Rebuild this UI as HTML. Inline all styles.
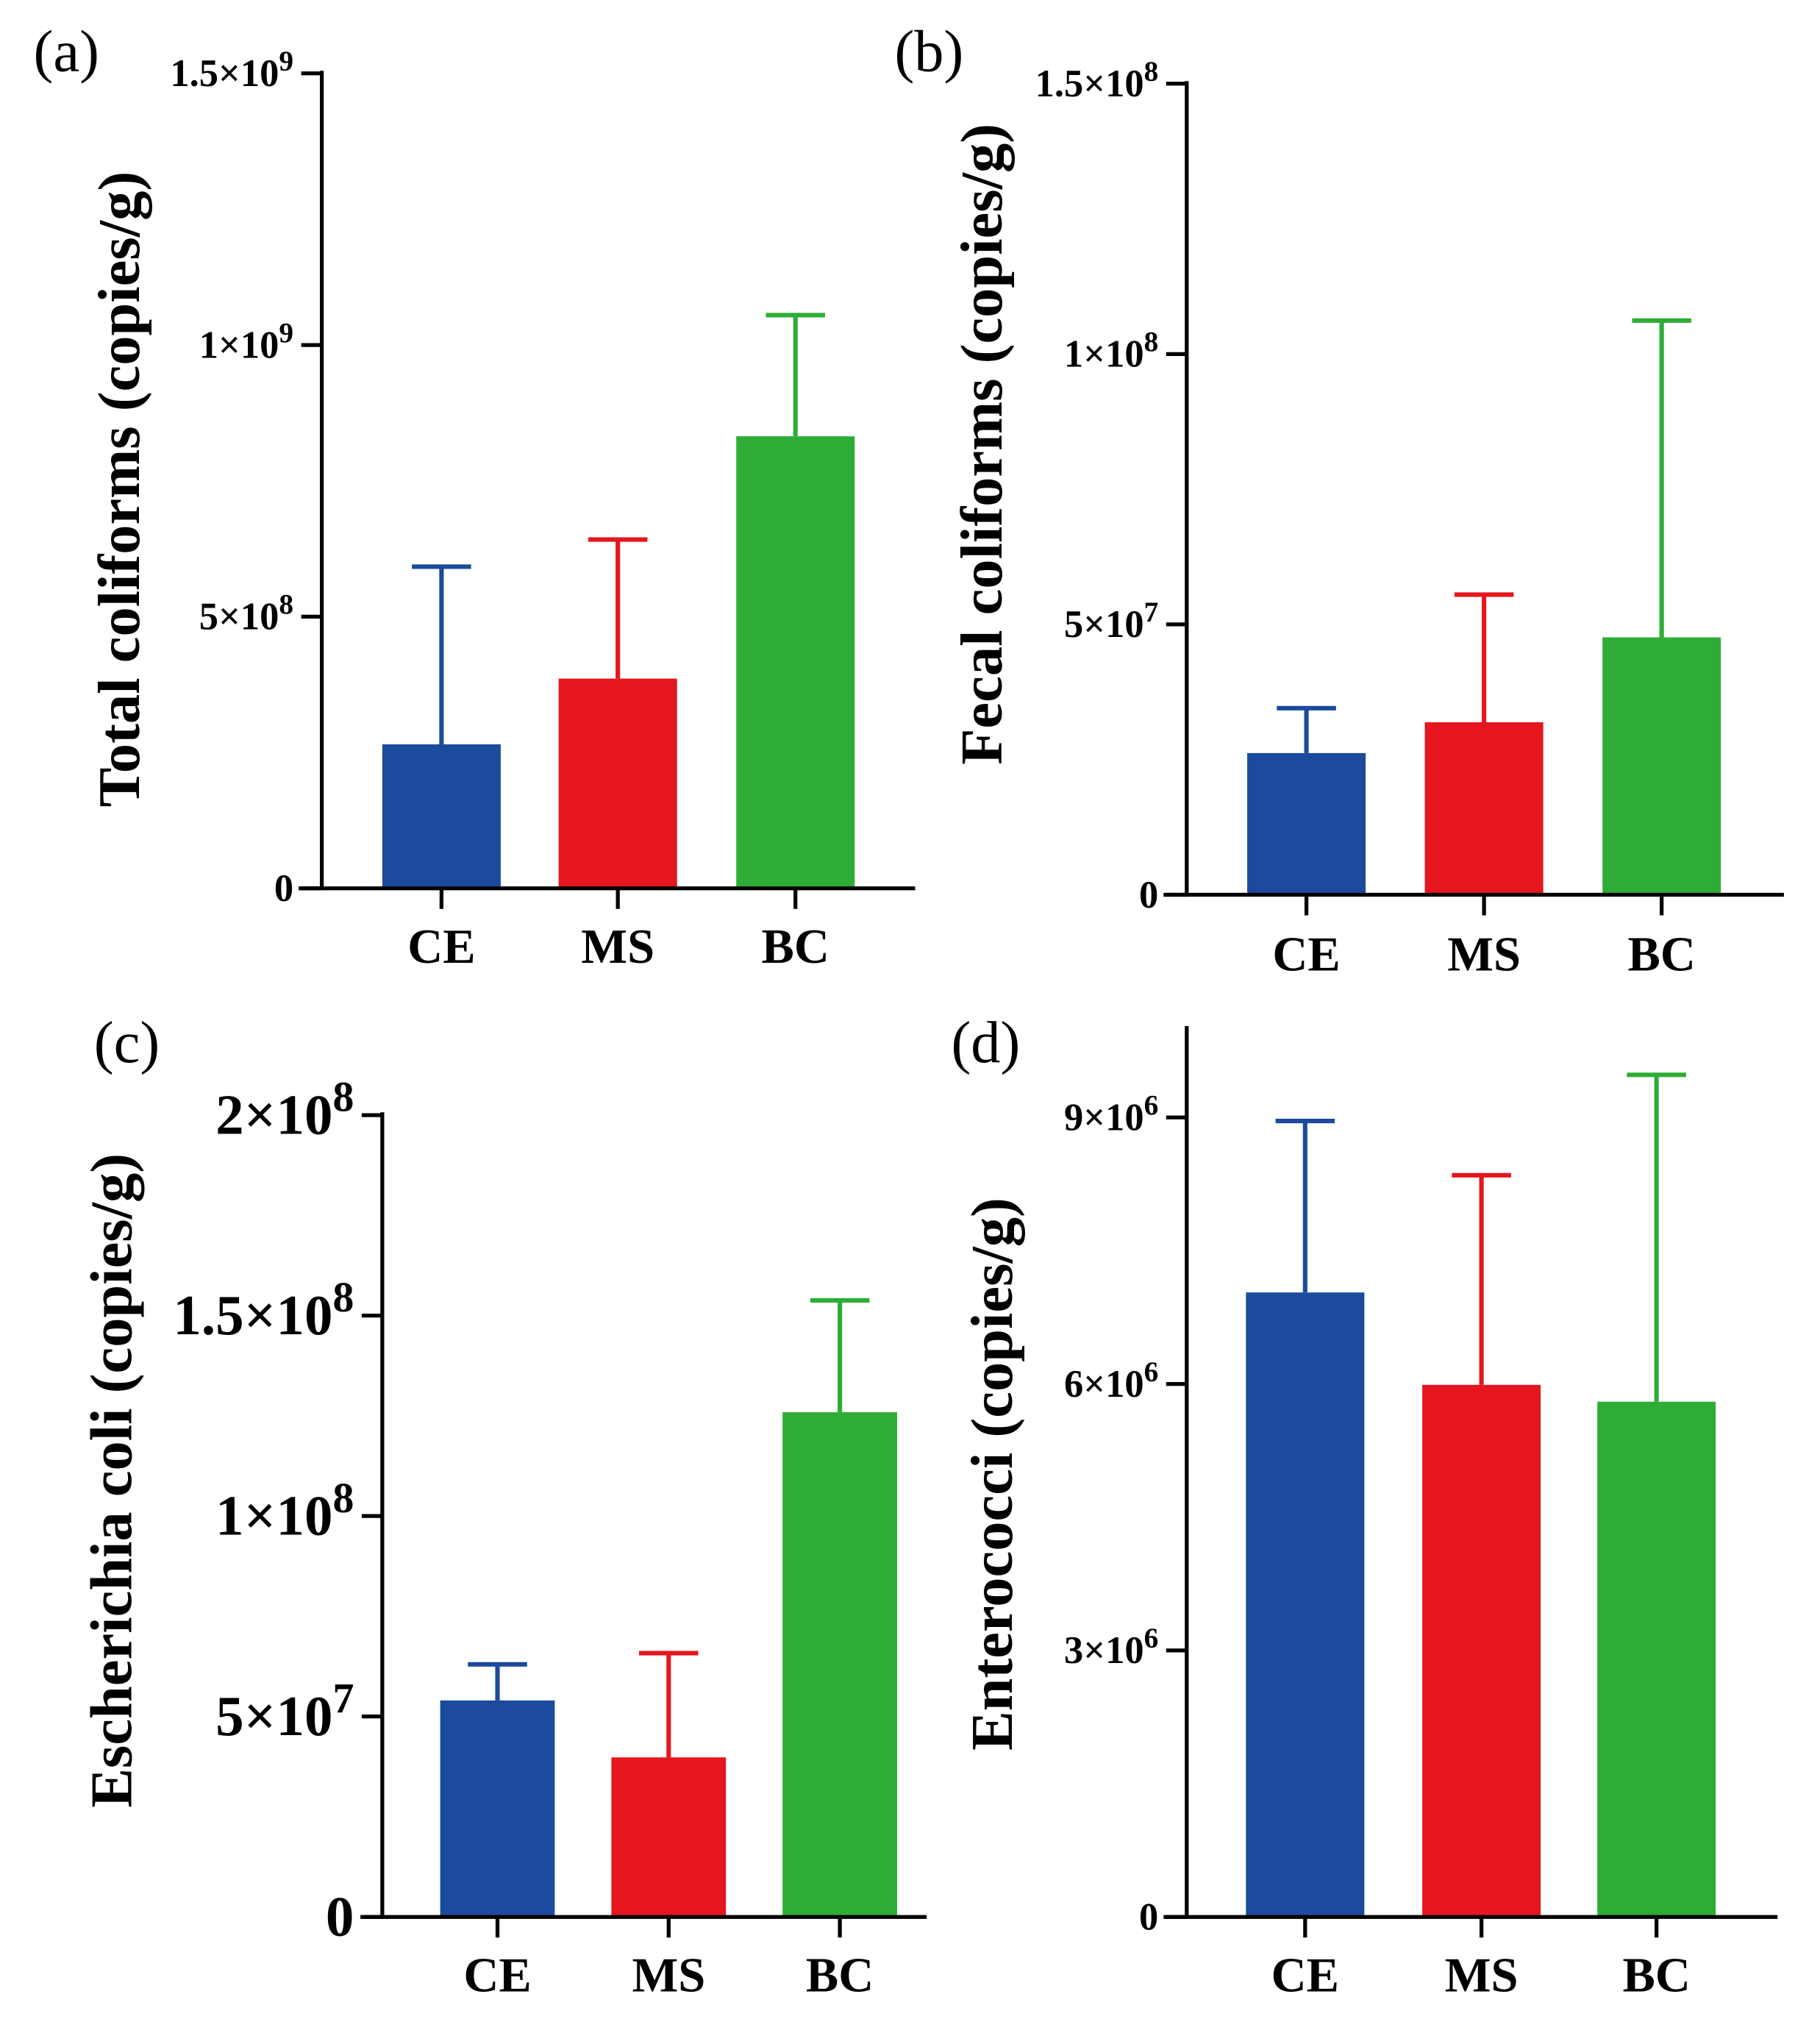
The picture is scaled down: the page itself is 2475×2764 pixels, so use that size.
<!DOCTYPE html>
<html><head><meta charset="utf-8"><style>html,body{margin:0;padding:0;background:#fff}svg{display:block}</style></head>
<body>
<svg id="fig" width="2475" height="2764" viewBox="0 0 1414 1579.15" xmlns="http://www.w3.org/2000/svg" font-family="Liberation Serif, serif"></svg>
<script>
const categories = ["CE","MS","BC"];
const colors = ["#1c4a9c","#e5161d","#2eac36"];
const meansA = [2.65e8, 3.86e8, 8.32e8];
const errTopA = [5.92e8, 6.42e8, 1.055e9];
const ticksA = [0, 5e8, 1e9, 1.5e9];
const tickLabelsA = [["0",""],["5×10","8"],["1×10","9"],["1.5×10","9"]];
const meansB = [2.62e7, 3.19e7, 4.76e7];
const errTopB = [3.45e7, 5.55e7, 1.062e8];
const ticksB = [0, 5e7, 1e8, 1.5e8];
const tickLabelsB = [["0",""],["5×10","7"],["1×10","8"],["1.5×10","8"]];
const meansC = [5.4e7, 3.98e7, 1.259e8];
const errTopC = [6.3e7, 6.58e7, 1.538e8];
const ticksC = [0, 5e7, 1e8, 1.5e8, 2e8];
const tickLabelsC = [["0",""],["5×10","7"],["1×10","8"],["1.5×10","8"],["2×10","8"]];
const meansD = [7.03e6, 5.99e6, 5.8e6];
const errTopD = [8.96e6, 8.35e6, 9.48e6];
const ticksD = [0, 3e6, 6e6, 9e6];
const tickLabelsD = [["0",""],["3×10","6"],["6×10","6"],["9×10","6"]];

const NS="http://www.w3.org/2000/svg";
const svg=document.getElementById('fig');
function mk(tag,attrs,parent){const e=document.createElementNS(NS,tag);for(const k in attrs)e.setAttribute(k,attrs[k]);(parent||svg).appendChild(e);return e;}

function panel(p){
  const g=mk('g',{});
  
  
  const y=v=>p.y0-(v/p.unit)*p.unitPx;
  const lab=mk('text',{x:p.lx,y:p.ly,'font-size':46},g);
  lab.textContent='('+p.id+')';
  
  
  for(let i=0;i<categories.length;i++){
    const x0=p.barX[i];
    const b=mk('rect',{x:x0,y:y(p.means[i]),width:p.bw,height:p.y0-y(p.means[i]),fill:colors[i]},g);
    
    
    const cx=x0+p.bw/2;
    const e=mk('path',{d:`M${cx},${y(p.means[i])}V${y(p.errTop[i])}M${cx-23},${y(p.errTop[i])}H${cx+23}`,stroke:colors[i],'stroke-width':3.5,fill:'none'},g);
    
    
    const tk=mk('line',{x1:cx,x2:cx,y1:p.y0,y2:p.y0+16,stroke:'#000','stroke-width':3},g);
    
    
    const t=mk('text',{x:cx,y:p.catY,'text-anchor':'middle','font-size':38,'font-weight':'bold'},g);
    t.textContent=categories[i];
    
    
  }
  const ax=mk('path',{d:`M${p.ax},${p.yTop}V${p.y0}M${p.xStart},${p.y0}H${p.xEnd}`,stroke:'#000','stroke-width':3,fill:'none'},g);
  
  
  p.ticks.forEach((v,j)=>{
    const ty=y(v);
    const tk=mk('line',{x1:p.ax-16,x2:p.ax,y1:ty,y2:ty,stroke:'#000','stroke-width':3},g);
    
    
    const t=mk('text',{x:p.ax-22,y:ty+p.fs*0.33,'text-anchor':'end','font-size':p.fs,'font-weight':'bold'},g);
    
    
    const [m,ex]=p.tickLabels[j];
    const s1=mk('tspan',{},t);s1.textContent=m;
    if(ex){const s2=mk('tspan',{dy:-p.fs*0.4,'font-size':p.fs*0.75},t);s2.textContent=ex;}
  });
  const tt=mk('text',{transform:`translate(${p.tx},${p.ty}) rotate(-90)`,'text-anchor':'middle','font-size':p.tfs,'font-weight':'bold'},g);
  tt.textContent=p.title;
  
  
}

panel({id:'a',lx:26,ly:55,means:meansA,errTop:errTopA,ticks:ticksA,tickLabels:tickLabelsA,y0:690,unit:5e8,unitPx:211,yTop:55,ax:250,xStart:232,xEnd:711,barX:[297,434,572],bw:92,catY:748,fs:30,title:'Total coliforms (copies/g)',tx:108,ty:380,tfs:46});
panel({id:'b',lx:695,ly:55,means:meansB,errTop:errTopB,ticks:ticksB,tickLabels:tickLabelsB,y0:695,unit:5e7,unitPx:210,yTop:63,ax:922,xStart:904,xEnd:1386,barX:[969,1107,1245],bw:92,catY:754,fs:30,title:'Fecal coliforms (copies/g)',tx:778,ty:345,tfs:46});
panel({id:'c',lx:73,ly:825,means:meansC,errTop:errTopC,ticks:ticksC,tickLabels:tickLabelsC,y0:1489,unit:5e7,unitPx:155.7,yTop:864,ax:297,xStart:280,xEnd:720,barX:[342,475,608],bw:89,catY:1547,fs:44,title:'Escherichia coli (copies/g)',tx:102,ty:1150,tfs:46});
panel({id:'d',lx:739,ly:825,means:meansD,errTop:errTopD,ticks:ticksD,tickLabels:tickLabelsD,y0:1489,unit:3e6,unitPx:207,yTop:797,ax:922,xStart:904,xEnd:1381,barX:[968,1105,1241],bw:92,catY:1547,fs:30,title:'Enterococci (copies/g)',tx:786,ty:1145,tfs:46});
</script>
</body></html>
